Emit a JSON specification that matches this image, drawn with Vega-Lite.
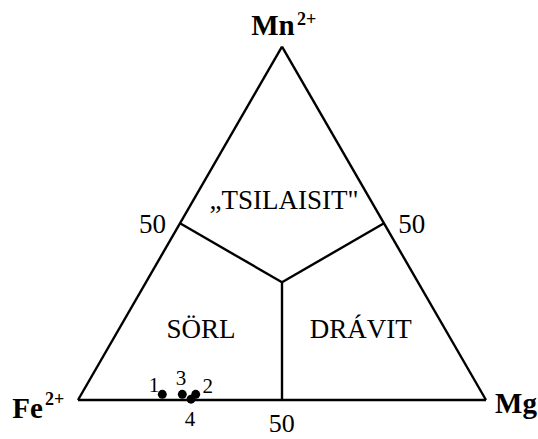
{
  "$schema": "https://vega.github.io/schema/vega-lite/v6.json",
  "width": 538,
  "height": 439,
  "padding": 0,
  "autosize": {"type": "none"},
  "background": "white",
  "config": {"view": {"stroke": null}, "font": "Liberation Serif"},
  "datasets": {
    "segments": [
      {"x": 0, "y": 0, "x2": 100, "y2": 0},
      {"x": 100, "y": 0, "x2": 50, "y2": 86.6},
      {"x": 50, "y": 86.6, "x2": 0, "y2": 0},
      {"x": 25, "y": 43.3, "x2": 50, "y2": 28.87},
      {"x": 75, "y": 43.3, "x2": 50, "y2": 28.87},
      {"x": 50, "y": 28.87, "x2": 50, "y2": 0}
    ],
    "samples": [
      {"id": "1", "x": 20.66, "y": 1.4},
      {"id": "3", "x": 25.56, "y": 1.4},
      {"id": "2", "x": 28.85, "y": 1.4},
      {"id": "4", "x": 27.7, "y": 0.2}
    ],
    "sampleLabels": [
      {"t": "1", "x": 18.63, "y": 2.03},
      {"t": "3", "x": 25.25, "y": 3.68},
      {"t": "2", "x": 31.79, "y": 1.64},
      {"t": "4", "x": 27.45, "y": -6.4}
    ],
    "vertexLabels": [
      {"t": "Mn", "x": 47.79, "y": 89.46},
      {"t": "Fe", "x": -12.38, "y": -4.41},
      {"t": "Mg", "x": 107.35, "y": -3.19}
    ],
    "charges": [
      {"t": "2+", "x": 53.68, "y": 91.91},
      {"t": "2+", "x": -8.09, "y": -1.23}
    ],
    "sideLabels": [
      {"t": "50", "x": 18.26, "y": 40.93},
      {"t": "50", "x": 81.79, "y": 40.93}
    ],
    "baseLabel": [
      {"t": "50", "x": 49.93, "y": -7.9}
    ],
    "regionLabels": [
      {"t": "„TSILAISIT\"", "x": 50.49, "y": 46.74},
      {"t": "SÖRL", "x": 30.15, "y": 15.27},
      {"t": "DRÁVIT", "x": 69.31, "y": 15.27}
    ]
  },
  "layer": [
    {
      "data": {"name": "segments"},
      "mark": {"type": "rule", "color": "black", "strokeWidth": 2.4},
      "encoding": {
        "x": {"field": "x", "type": "quantitative", "scale": {"domain": [-19.118, 112.745], "nice": false, "zero": false}, "axis": null},
        "y": {"field": "y", "type": "quantitative", "scale": {"domain": [-9.559, 98.039], "nice": false, "zero": false}, "axis": null},
        "x2": {"field": "x2"},
        "y2": {"field": "y2"}
      }
    },
    {
      "data": {"name": "samples"},
      "mark": {"type": "circle", "color": "black", "opacity": 1, "size": 80},
      "encoding": {
        "x": {"field": "x", "type": "quantitative"},
        "y": {"field": "y", "type": "quantitative"}
      }
    },
    {
      "data": {"name": "sampleLabels"},
      "mark": {"type": "text", "fontSize": 21, "align": "center", "baseline": "alphabetic", "color": "black"},
      "encoding": {
        "x": {"field": "x", "type": "quantitative"},
        "y": {"field": "y", "type": "quantitative"},
        "text": {"field": "t"}
      }
    },
    {
      "data": {"name": "vertexLabels"},
      "mark": {"type": "text", "fontSize": 29, "fontWeight": "bold", "align": "center", "baseline": "alphabetic", "color": "black"},
      "encoding": {
        "x": {"field": "x", "type": "quantitative"},
        "y": {"field": "y", "type": "quantitative"},
        "text": {"field": "t"}
      }
    },
    {
      "data": {"name": "charges"},
      "mark": {"type": "text", "fontSize": 18, "fontWeight": "bold", "align": "left", "baseline": "alphabetic", "color": "black"},
      "encoding": {
        "x": {"field": "x", "type": "quantitative"},
        "y": {"field": "y", "type": "quantitative"},
        "text": {"field": "t"}
      }
    },
    {
      "data": {"name": "sideLabels"},
      "mark": {"type": "text", "fontSize": 27, "align": "center", "baseline": "alphabetic", "color": "black"},
      "encoding": {
        "x": {"field": "x", "type": "quantitative"},
        "y": {"field": "y", "type": "quantitative"},
        "text": {"field": "t"}
      }
    },
    {
      "data": {"name": "baseLabel"},
      "mark": {"type": "text", "fontSize": 26, "align": "center", "baseline": "alphabetic", "color": "black"},
      "encoding": {
        "x": {"field": "x", "type": "quantitative"},
        "y": {"field": "y", "type": "quantitative"},
        "text": {"field": "t"}
      }
    },
    {
      "data": {"name": "regionLabels"},
      "mark": {"type": "text", "fontSize": 27, "align": "center", "baseline": "alphabetic", "color": "black"},
      "encoding": {
        "x": {"field": "x", "type": "quantitative"},
        "y": {"field": "y", "type": "quantitative"},
        "text": {"field": "t"}
      }
    }
  ]
}
